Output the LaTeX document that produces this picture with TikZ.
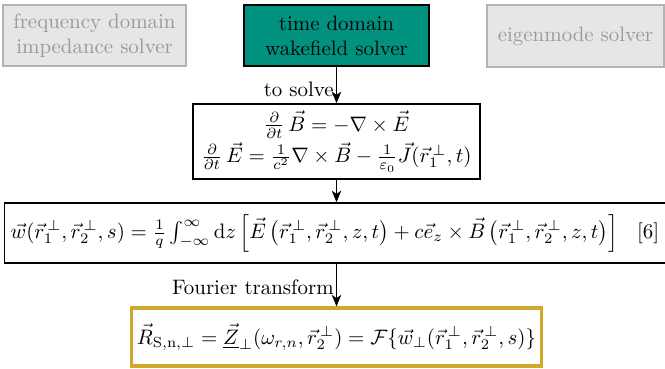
\documentclass[tikz,border=0pt]{standalone}
\usepackage{amsmath}
\usetikzlibrary{arrows.meta}
\definecolor{teal1}{HTML}{00927F}
\definecolor{gold1}{HTML}{D0A82A}
\definecolor{grayfill}{HTML}{E6E6E6}
\definecolor{grayline}{HTML}{B4B4B4}
\definecolor{graytext}{HTML}{9A9A9A}
\tikzset{
  graybox/.style={draw=grayline, fill=grayfill, text=graytext, line width=0.6pt, align=center, inner sep=0pt},
  mainbox/.style={draw=black, fill=teal1, line width=1.1pt, align=center, inner sep=0pt},
  eqbox/.style={draw=black, line width=0.7pt, align=center, inner sep=0pt},
  resbox/.style={draw=gold1, line width=1.5pt, align=center, inner sep=0pt},
  flow/.style={-{Stealth[length=5.5pt,width=4.5pt,inset=1.5pt]}, line width=0.7pt},
  lbl/.style={anchor=east, inner sep=1pt}
}
\begin{document}
\begin{tikzpicture}[x=0.478pt, y=-0.478pt]
\useasboundingbox (0,0) rectangle (665,369);
\node[graybox, minimum width=87.5pt, minimum height=29.2pt] (freq) at (94.5,35.5) {frequency domain\\impedance solver};
\node[mainbox, minimum width=88.4pt, minimum height=29.2pt] (time) at (336.5,35.5) {time domain\\wakefield solver};
\node[graybox, minimum width=84.6pt, minimum height=29.6pt] (eig) at (575.5,36) {eigenmode solver};
\node[eqbox, minimum width=137.2pt, minimum height=35.9pt] (maxw) at (336.5,141.5)
  {$\frac{\partial}{\partial t}\,\vec{B} = -\nabla\times\vec{E}$\\[1pt]
   $\frac{\partial}{\partial t}\,\vec{E} = \frac{1}{c^2}\nabla\times\vec{B} - \frac{1}{\varepsilon_0}\vec{J}(\vec{r}_1^{\,\perp},t)$};
\node[eqbox, minimum width=316pt, minimum height=28.7pt, text width=310pt, align=left] (wake) at (335,233)
  {$\vec{w}(\vec{r}_1^{\,\perp},\vec{r}_2^{\,\perp},s) = \frac{1}{q}\int_{-\infty}^{\infty}\mathrm{d}z\left[\vec{E}\left(\vec{r}_1^{\,\perp},\vec{r}_2^{\,\perp},z,t\right)+c\vec{e}_z\times\vec{B}\left(\vec{r}_1^{\,\perp},\vec{r}_2^{\,\perp},z,t\right)\right]$\hfill[6]\hspace*{2pt}};
\node[resbox, minimum width=196pt, minimum height=27.7pt] (imp) at (336.5,337)
  {$\vec{R}_{\mathrm{S,n},\perp} = \underline{\vec{Z}}_{\perp}(\omega_{r,n},\vec{r}_2^{\,\perp}) = \mathcal{F}\{\vec{w}_\perp(\vec{r}_1^{\,\perp},\vec{r}_2^{\,\perp},s)\}$};
\draw[flow] (time.south) -- node[lbl, pos=0.62] {to solve} (maxw.north);
\draw[flow] (maxw.south) -- (maxw.south |- wake.north);
\draw[flow] (maxw.south |- wake.south) -- node[lbl, pos=0.55] {Fourier transform} (imp.north);
\end{tikzpicture}
\end{document}
